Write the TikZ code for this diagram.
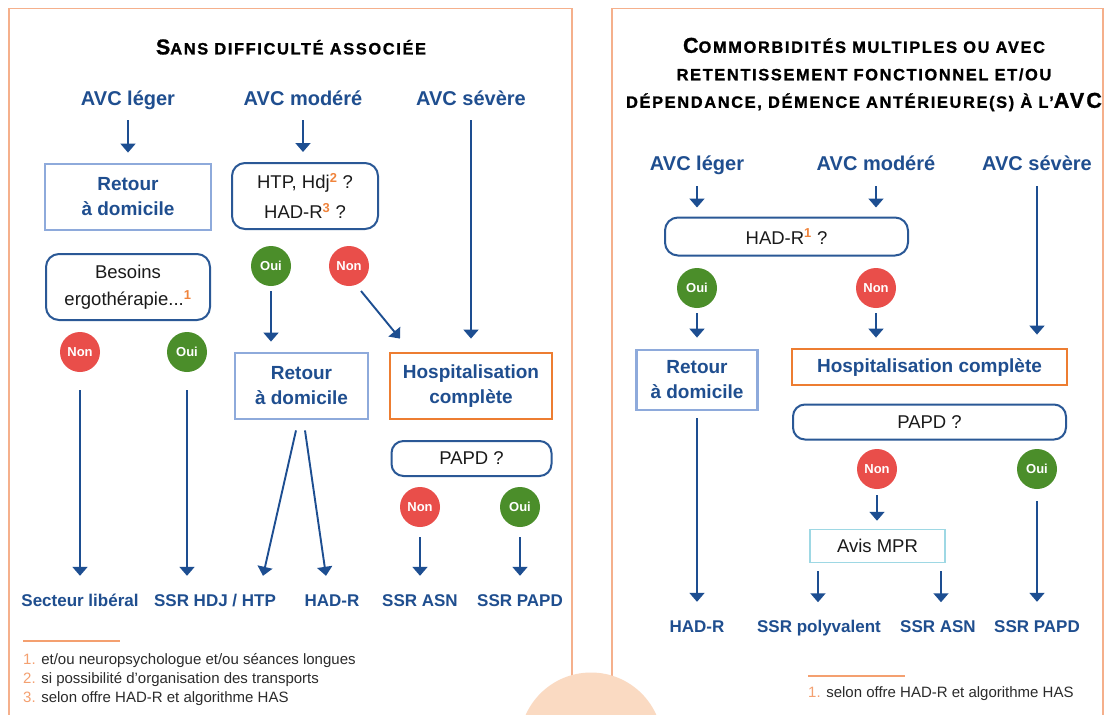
\documentclass[tikz,border=0pt]{standalone}
\usepackage{fontspec}
\setmainfont{Liberation Sans}
\usetikzlibrary{arrows.meta,calc}

\definecolor{navy}{HTML}{1F4E8F}
\definecolor{arrowblue}{HTML}{1D4E91}
\definecolor{qborder}{HTML}{2A5896}
\definecolor{homeblue}{HTML}{8EAADB}
\definecolor{hosporange}{HTML}{ED7D31}
\definecolor{ouigreen}{HTML}{4B8E2A}
\definecolor{nonred}{HTML}{E94E4A}
\definecolor{framepeach}{HTML}{F5B08C}
\definecolor{discpeach}{HTML}{FADAC2}
\definecolor{supor}{HTML}{F0843C}
\definecolor{notenum}{HTML}{F4A070}
\definecolor{notetext}{HTML}{2B2B2B}
\definecolor{aviscyan}{HTML}{9ED8E4}
\definecolor{inktext}{HTML}{1A1A1A}

\newcommand\supnum[1]{\textsuperscript{\color{supor}\bfseries #1}}
\newcommand\capbig[1]{{\fontsize{21.5}{27.5}\selectfont #1}}

\begin{document}
\begin{tikzpicture}[x=1pt,y=-1pt,
  hdr/.style={font=\bfseries\fontsize{20}{24}\selectfont, text=navy, inner sep=0pt, text height=14.5pt, text depth=4.5pt},
  homebox/.style={draw=homeblue, line width=2.8pt, fill=white, inner sep=0pt, align=center, text=navy, font=\bfseries\fontsize{19}{25}\selectfont},
  hospbox/.style={homebox, draw=hosporange},
  qbox/.style={draw=qborder, line width=2pt, rounded corners=13pt, inner sep=0pt, align=center, text=inktext},
  avisbox/.style={draw=aviscyan, line width=1.5pt, inner sep=0pt, text=inktext, font=\fontsize{18.5}{22}\selectfont},
  verdict/.style={circle, minimum size=40pt, inner sep=0pt, text=white, font=\bfseries\fontsize{13}{15}\selectfont},
  oui/.style={verdict, fill=ouigreen},
  non/.style={verdict, fill=nonred},
  outcome/.style={font=\bfseries\fontsize{17}{20}\selectfont, text=navy, inner sep=0pt, text height=12.5pt, text depth=3.5pt},
  flow/.style={draw=arrowblue, line width=1.9pt, -{Triangle[width=15pt,length=9pt]}},
  note/.style={anchor=base west, inner sep=0pt, font=\fontsize{15}{18}\selectfont, text=notetext},
  ttl/.style={align=center, inner sep=0pt, text=black, font=\bfseries\fontsize{16.4}{27.5}\selectfont\addfontfeature{LetterSpace=10,FakeBold=1.2}},
  frame/.style={draw=framepeach, line width=1.6pt},
]
\useasboundingbox (0,0) rectangle (1112,715);
\fill[white] (0,0) rectangle (1112,715);

% panel frames, open at the bottom
\draw[frame] (9,716) -- (9,8.5) -- (572,8.5) -- (572,716);
\draw[frame] (612,716) -- (612,8.5) -- (1103,8.5) -- (1103,716);
\fill[discpeach] (591,744) circle[radius=71.5pt];

% ---------------- left panel ----------------
\node[ttl] (ltitle) at (291,47) {\capbig{S}ANS DIFFICULTÉ ASSOCIÉE};

\node[hdr] (lh1) at (128,100) {AVC léger};
\node[hdr] (lh2) at (303,100) {AVC modéré};
\node[hdr] (lh3) at (471,100) {AVC sévère};

\node[homebox, minimum width=166pt, minimum height=66pt] (lret1) at (128,197) {Retour\\à domicile};
\node[qbox, minimum width=146pt, minimum height=66pt, font=\fontsize{18.5}{30}\selectfont] (lhtp) at (305,196) {HTP, Hdj\supnum{2} ?\\HAD-R\supnum{3} ?};
\node[qbox, minimum width=164pt, minimum height=66pt, font=\fontsize{18.5}{27}\selectfont] (lbes) at (128,287) {Besoins\\ergothérapie...\supnum{1}};

\node[oui] (lo1) at (271,266) {Oui};
\node[non] (ln1) at (349,266) {Non};
\node[non] (ln2) at (80,352) {Non};
\node[oui] (lo2) at (187,352) {Oui};

\node[homebox, minimum width=133pt, minimum height=66pt] (lret2) at (301.5,386) {Retour\\à domicile};
\node[hospbox, minimum width=162pt, minimum height=66pt] (lhosp) at (471,386) {Hospitalisation\\complète};
\node[qbox, minimum width=160pt, minimum height=35pt, rounded corners=12pt, font=\fontsize{18.5}{22}\selectfont] (lpapd) at (471.5,458.5) {PAPD ?};

\node[non] (ln3) at (420,507) {Non};
\node[oui] (lo3) at (520,507) {Oui};

\node[outcome] (ll1) at (80,602) {Secteur libéral};
\node[outcome] (ll2) at (215,602) {SSR HDJ / HTP};
\node[outcome] (ll3) at (332,602) {HAD-R};
\node[outcome] (ll4) at (420,602) {SSR ASN};
\node[outcome] (ll5) at (520,602) {SSR PAPD};

\draw[flow] ($(lh1.south)+(0,10.5)$) -- ($(lh1.south |- lret1.north)+(0,-10)$);
\draw[flow] ($(lh2.south)+(0,10.5)$) -- ($(lh2.south |- lhtp.north)+(0,-10)$);
\draw[flow] ($(lh3.south)+(0,10.5)$) -- ($(lh3.south |- lhosp.north)+(0,-13)$);
\draw[flow] ($(lo1.south)+(0,5)$) -- ($(lo1.south |- lret2.north)+(0,-10)$);
\draw[flow] ($(ln1.center)+(12,25)$) -- ($(lhosp.north)+(-71,-13)$);
\draw[flow] ($(ln2.south)+(0,18)$) -- ($(ll1.north)+(0,-18)$);
\draw[flow] ($(lo2.south)+(0,18)$) -- ($(lo2.south |- ll2.north)+(0,-18)$);
\draw[flow] ($(lret2.south)+(-5.5,10)$) -- ($(ll2.north)+(48,-18)$);
\draw[flow] ($(lret2.south)+(3.5,10)$) -- ($(ll3.north)+(-6,-18)$);
\draw[flow] ($(ln3.south)+(0,10)$) -- ($(ln3.south |- ll4.north)+(0,-18)$);
\draw[flow] ($(lo3.south)+(0,10)$) -- ($(lo3.south |- ll5.north)+(0,-18)$);

\draw[notenum, line width=1.5pt] (23,641) -- (120,641);
\node[note] (lfn1) at (23,664) {{\color{notenum}1.} et/ou neuropsychologue et/ou séances longues};
\node[note] (lfn2) at (23,683) {{\color{notenum}2.} si possibilité d’organisation des transports};
\node[note] (lfn3) at (23,702) {{\color{notenum}3.} selon offre HAD-R et algorithme HAS};

% ---------------- right panel ----------------
\node[ttl] (rtitle) at (864,74.5) {\capbig{C}OMMORBIDITÉS MULTIPLES OU AVEC\\RETENTISSEMENT FONCTIONNEL ET/OU\\DÉPENDANCE, DÉMENCE ANTÉRIEURE(S) À L’\capbig{AVC}};

\node[hdr] (rh1) at (697,165) {AVC léger};
\node[hdr] (rh2) at (876,165) {AVC modéré};
\node[hdr] (rh3) at (1037,165) {AVC sévère};

\node[qbox, minimum width=243pt, minimum height=38pt, font=\fontsize{18.5}{22}\selectfont] (rhad) at (786.5,236.5) {HAD-R\supnum{1} ?};

\node[oui] (ro1) at (697,288) {Oui};
\node[non] (rn1) at (876,288) {Non};

\node[homebox, minimum width=121pt, minimum height=60pt] (rret) at (697,380) {Retour\\à domicile};
\node[hospbox, minimum width=275pt, minimum height=36pt] (rhosp) at (929.5,367) {Hospitalisation complète};
\node[qbox, minimum width=273pt, minimum height=35pt, rounded corners=12pt, font=\fontsize{18.5}{22}\selectfont] (rpapd) at (929.5,422) {PAPD ?};

\node[non] (rn2) at (877,469) {Non};
\node[oui] (ro2) at (1037,469) {Oui};

\node[avisbox, minimum width=135pt, minimum height=33pt] (ravis) at (877.5,546) {Avis MPR};

\node[outcome] (rl1) at (697,628) {HAD-R};
\node[outcome] (rl2) at (819,628) {SSR polyvalent};
\node[outcome] (rl3) at (938,628) {SSR ASN};
\node[outcome] (rl4) at (1037,628) {SSR PAPD};

\draw[flow] ($(rh1.south)+(0,11.5)$) -- ($(rh1.south |- rhad.north)+(0,-9)$);
\draw[flow] ($(rh2.south)+(0,11.5)$) -- ($(rh2.south |- rhad.north)+(0,-9)$);
\draw[flow] ($(rh3.south)+(0,11.5)$) -- ($(rh3.south |- rhosp.north)+(0,-13)$);
\draw[flow] ($(ro1.south)+(0,5)$) -- ($(ro1.south |- rret.north)+(0,-11)$);
\draw[flow] ($(rn1.south)+(0,5)$) -- ($(rn1.south |- rhosp.north)+(0,-10)$);
\draw[flow] ($(rn2.south)+(0,6)$) -- ($(rn2.south |- ravis.north)+(0,-8)$);
\draw[flow] ($(rret.south)+(0,7)$) -- ($(rret.south |- rl1.north)+(0,-18)$);
\draw[flow] ($(ravis.south)+(-59.5,8)$) -- ($(ravis.south)+(-59.5,39)$);
\draw[flow] ($(ravis.south)+(63.5,8)$) -- ($(ravis.south)+(63.5,39)$);
\draw[flow] ($(ro2.south)+(0,12)$) -- ($(ro2.south |- rl4.north)+(0,-18)$);

\draw[notenum, line width=1.5pt] (808,676) -- (905,676);
\node[note] (rfn1) at (808,697) {{\color{notenum}1.} selon offre HAD-R et algorithme HAS};
\end{tikzpicture}
\end{document}
